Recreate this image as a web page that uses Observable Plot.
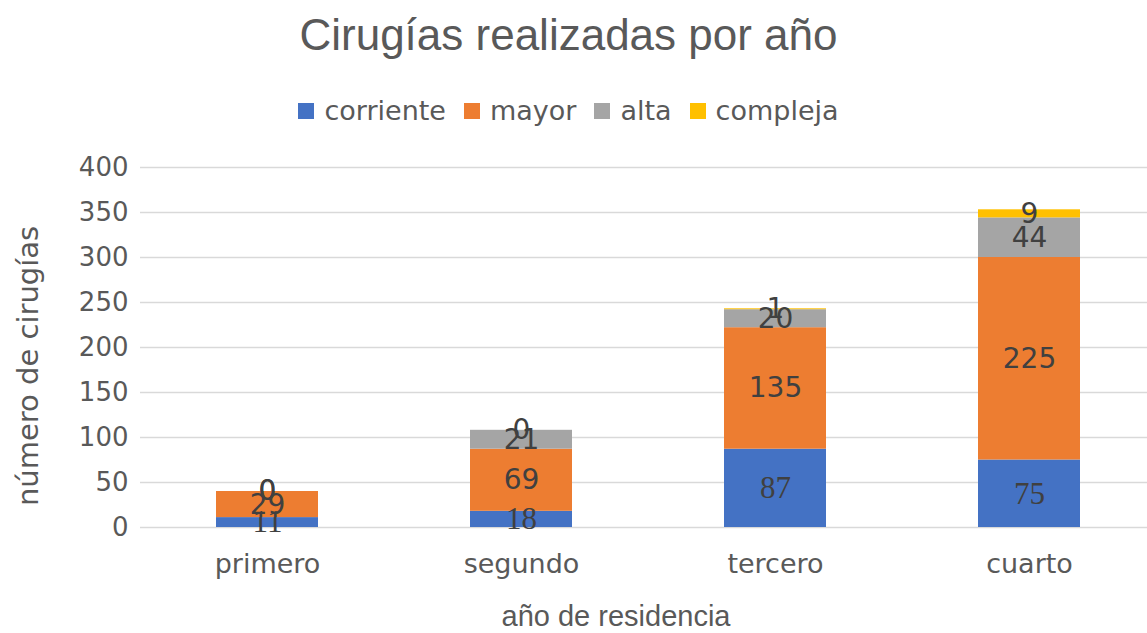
<!DOCTYPE html>
<html>
<head>
<meta charset="utf-8">
<script src="https://cdn.jsdelivr.net/npm/d3@7"></script>
<script src="https://cdn.jsdelivr.net/npm/@observablehq/plot@0.6"></script>
<style>
  html, body { margin: 0; padding: 0; background: #fff; }
  #page { position: relative; width: 1147px; height: 633px; overflow: hidden; }
  #title { position: absolute; left: 0; width: 1137px; top: 10px; text-align: center;
    font-family: "Liberation Sans", Arial, sans-serif; font-size: 44px; color: #595959; }
  #legend { position: absolute; left: 0; width: 1137px; top: 95px; display: flex; justify-content: center;
    font-family: "DejaVu Sans", sans-serif; font-size: 27px; color: #595959; }
  .item { display: flex; align-items: center; margin: 0 9px; }
  .sw { width: 16px; height: 16px; margin-right: 10px; }
  #chart { position: absolute; left: 0; top: 140px; }
  #xtitle { position: absolute; top: 600px; left: 416px; width: 400px; text-align: center;
    font-family: "Liberation Sans", Arial, sans-serif; font-size: 29px; color: #595959; }
  #ytitle { position: absolute; left: 28px; top: 366px; transform: translate(-50%, -50%) rotate(-90deg);
    white-space: nowrap; font-family: "DejaVu Sans", sans-serif; font-size: 29px; color: #595959; }
</style>
</head>
<body>
<div id="page">
  <div id="title">Cirugías realizadas por año</div>
  <div id="legend"></div>
  <div id="chart"></div>
  <div id="ytitle">número de cirugías</div>
  <div id="xtitle">año de residencia</div>
</div>
<script>
const years = ["primero", "segundo", "tercero", "cuarto"];
const series = ["corriente", "mayor", "alta", "compleja"];
const corriente = [11, 18, 87, 75];
const mayor = [29, 69, 135, 225];
const alta = [0, 21, 20, 44];
const compleja = [0, 0, 1, 9];
const colors = ["#4472C4", "#ED7D31", "#A5A5A5", "#FFC000"];
const yTicks = [0, 50, 100, 150, 200, 250, 300, 350, 400];

const valuesBySerie = { corriente, mayor, alta, compleja };
const data = series.flatMap(s => years.map((y, i) => ({ year: y, serie: s, value: valuesBySerie[s][i] })));

// legend
const legend = document.getElementById("legend");
series.forEach((s, i) => {
  const it = document.createElement("div");
  it.className = "item";
  it.innerHTML = `<span class="sw" style="background:${colors[i]}"></span><span>${s}</span>`;
  legend.appendChild(it);
});

const stackOpts = { x: "year", y: "value", z: "serie", order: series };

const chart = Plot.plot({
  width: 1147,
  height: 493,
  marginTop: 27,
  marginBottom: 106,
  marginLeft: 140,
  marginRight: 0,
  style: { fontFamily: "DejaVu Sans, sans-serif", color: "#595959", background: "transparent" },
  x: { domain: years, range: [140, 1156], paddingInner: 0.6, paddingOuter: 0.3, label: null },
  y: { domain: [0, 400], label: null },
  color: { domain: series, range: colors },
  marks: [
    Plot.ruleY(yTicks, { stroke: "#d9d9d9", strokeWidth: 1.5 }),
    Plot.barY(data, Plot.stackY({ ...stackOpts, fill: "serie" })),
    Plot.text(data, Plot.stackY({ ...stackOpts,
      text: d => d.serie === "corriente" ? String(d.value) : null,
      fontFamily: "Liberation Serif, serif", fontSize: 31, fill: "#404040" })),
    Plot.text(data, Plot.stackY({ ...stackOpts,
      text: d => d.serie !== "corriente" ? String(d.value) : null,
      fontFamily: "DejaVu Sans, sans-serif", fontSize: 28, fill: "#404040" })),
    Plot.axisY({ ticks: yTicks, tickSize: 0, tickPadding: 12, fontSize: 26, label: null, fill: "#595959" }),
    Plot.axisX({ tickSize: 0, tickPadding: 26, fontSize: 27, label: null, fill: "#595959" })
  ]
});
document.getElementById("chart").appendChild(chart);
</script>
</body>
</html>
